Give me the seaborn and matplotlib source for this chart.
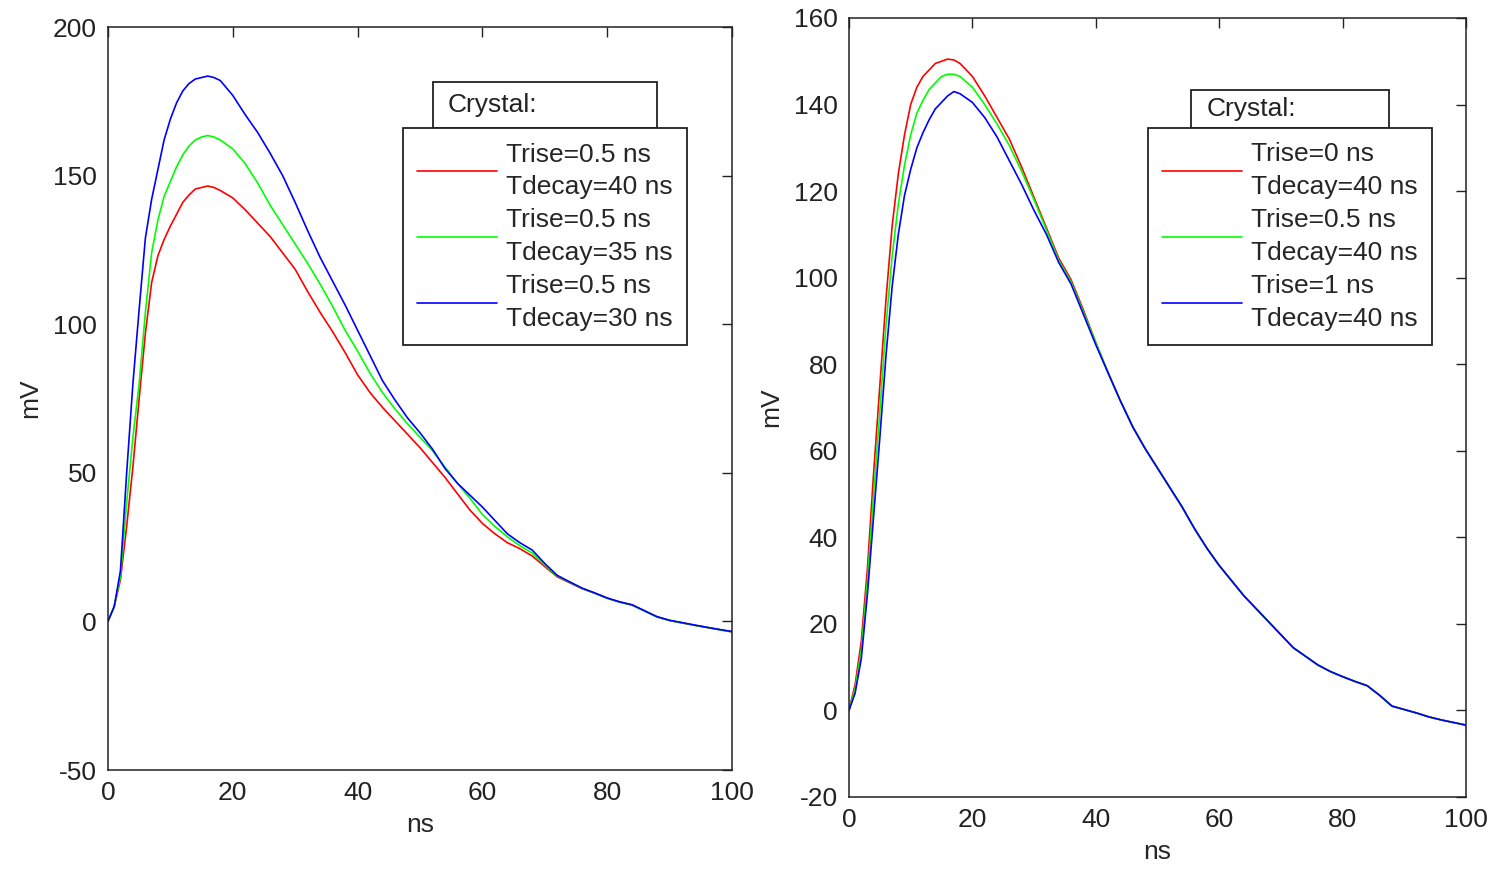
import numpy as np
import pandas as pd
import matplotlib
matplotlib.use("Agg")
import matplotlib.pyplot as plt
from matplotlib.patches import Rectangle
import seaborn as sns

# ---------------- data ----------------
t_ns = [0, 1, 2, 3, 4, 5, 6, 7, 8, 9, 10, 11, 12, 13, 14, 15, 16, 17, 18,
        20, 22, 24, 26, 28, 30, 32, 34, 36, 38,
        40, 42, 44, 46, 48, 50, 52, 54, 56, 58,
        60, 62, 64, 66, 68, 70, 72, 74, 76, 78,
        80, 82, 84, 86, 88, 90, 92, 94, 96, 98, 100]

# left panel: Trise = 0.5 ns, varying Tdecay
left_d40 = [0, 5, 14, 32, 52, 75, 97, 114, 123, 128.5, 133, 137, 141, 143.5, 145.5, 146, 146.5, 146, 145,
            142.5, 138.5, 134, 129.5, 124, 118.5, 111, 104, 97.5, 90.5,
            83, 77, 72, 67.5, 63, 58.5, 53.5, 48.5, 43, 37.5,
            33, 29.5, 26.5, 24.5, 22, 18.5, 15, 13, 11, 9.5,
            7.8, 6.5, 5.5, 3.5, 1.5, 0.3, -0.5, -1.3, -2.0, -2.8, -3.5]
left_d35 = [0, 5, 15, 40, 62, 80, 104, 124, 135, 143, 148, 153, 157, 160, 162, 163, 163.5, 163, 162,
            159, 154, 147.5, 140, 133.5, 127, 120.5, 113.5, 106, 98,
            91, 83.5, 77, 71.5, 66.5, 62, 57.5, 52, 46.5, 41.5,
            36, 32, 28.5, 25.5, 23, 19, 15.3, 13.2, 11.1, 9.5,
            7.8, 6.5, 5.5, 3.5, 1.5, 0.3, -0.5, -1.3, -2.0, -2.8, -3.5]
left_d30 = [0, 5, 17, 50, 80, 105, 129, 142, 152, 162, 169, 174.5, 178.5, 181, 182.5, 183, 183.5, 183, 182,
            177, 170.5, 164.5, 157.5, 150, 141, 131.5, 122.5, 114.5, 106.5,
            98, 89.5, 81, 74.5, 68.5, 63.5, 58, 51.5, 46.5, 42.5,
            38.5, 34, 29.5, 26.5, 24, 19.5, 15.5, 13.3, 11.2, 9.6,
            7.9, 6.6, 5.6, 3.6, 1.6, 0.4, -0.4, -1.2, -2.0, -2.7, -3.4]

# right panel: Tdecay = 40 ns, varying Trise
right_r0 = [0, 6, 16, 33, 55, 75, 95, 112, 124, 133, 140, 144, 146.5, 148, 149.5, 150, 150.5, 150.3, 149.5,
            146.5, 142, 137, 132, 125.5, 118.5, 111.5, 104.5, 99.5, 92.5,
            85, 78, 71.5, 65.5, 60.5, 56, 51.5, 47, 42, 37.5,
            33.5, 30, 26.5, 23.5, 20.5, 17.5, 14.5, 12.5, 10.5, 9,
            7.8, 6.7, 5.7, 3.5, 1.0, 0.2, -0.6, -1.5, -2.2, -2.8, -3.4]
right_r05 = [0, 5, 14, 30, 50, 69, 89, 105, 117, 126, 133, 138, 141, 143.5, 145, 146.5, 147, 147, 146.5,
             144, 140, 135.5, 130.5, 124.5, 118, 111, 104, 99, 92,
             85, 78, 71.5, 65.5, 60.5, 56, 51.5, 47, 42, 37.5,
             33.5, 30, 26.5, 23.5, 20.5, 17.5, 14.5, 12.5, 10.5, 9,
             7.8, 6.7, 5.7, 3.5, 1.0, 0.2, -0.6, -1.5, -2.2, -2.8, -3.4]
right_r1 = [0, 4, 12, 27, 45, 63, 82, 98, 110, 119, 125, 130, 133.5, 136.5, 139, 140.5, 142, 143, 142.5,
            140.5, 137, 132.5, 127, 121.5, 115.5, 110, 103.5, 98.5, 91.5,
            84.5, 78, 71.5, 65.5, 60.5, 56, 51.5, 47, 42, 37.5,
            33.5, 30, 26.5, 23.5, 20.5, 17.5, 14.5, 12.5, 10.5, 9,
            7.8, 6.7, 5.7, 3.5, 1.0, 0.2, -0.6, -1.5, -2.2, -2.8, -3.4]

left_labels = ["Trise=0.5 ns\nTdecay=40 ns", "Trise=0.5 ns\nTdecay=35 ns", "Trise=0.5 ns\nTdecay=30 ns"]
right_labels = ["Trise=0 ns\nTdecay=40 ns", "Trise=0.5 ns\nTdecay=40 ns", "Trise=1 ns\nTdecay=40 ns"]
colors = ["#ff0000", "#00ff00", "#0000ff"]

left_yticks = [-50, 0, 50, 100, 150, 200]
right_yticks = [-20, 0, 20, 40, 60, 80, 100, 120, 140, 160]
xticks = [0, 20, 40, 60, 80, 100]

# ---------------- style ----------------
sns.set_theme(style="white")
plt.rcParams["font.family"] = ["Liberation Sans Narrow", "Liberation Sans", "DejaVu Sans"]
plt.rcParams["axes.edgecolor"] = "#222222"
plt.rcParams["axes.linewidth"] = 1.1
plt.rcParams["axes.unicode_minus"] = False

FS = 19

fig = plt.figure(figsize=(14.91, 8.69), dpi=100)
axL = fig.add_axes([0.0724, 0.1139, 0.4185, 0.8550])
axR = fig.add_axes([0.5694, 0.0829, 0.4138, 0.8964])


def long_df(series, labels):
    frames = []
    for vals, lab in zip(series, labels):
        frames.append(pd.DataFrame({"ns": t_ns, "mV": vals, "label": lab}))
    return pd.concat(frames, ignore_index=True)


def draw(ax, series, labels, yticks, ylim, leg_anchor, title_rect, title_xy):
    df = long_df(series, labels)
    sns.lineplot(data=df, x="ns", y="mV", hue="label", hue_order=labels,
                 palette=colors, linewidth=1.2, ax=ax, sort=False, estimator=None)
    ax.set_xlim(0, 100)
    ax.set_ylim(*ylim)
    ax.set_xticks(xticks)
    ax.set_yticks(yticks)
    ax.tick_params(direction="in", length=7, width=1.0, top=True, right=True,
                   labelsize=FS, pad=8, colors="#222222")
    ax.set_xlabel("ns", fontsize=FS, labelpad=6)
    ax.set_ylabel("mV", fontsize=FS, labelpad=8)
    for s in ax.spines.values():
        s.set_visible(True)
    leg = ax.legend(loc="upper left", bbox_to_anchor=leg_anchor, borderaxespad=0,
                    fontsize=FS, frameon=True, fancybox=False, framealpha=1,
                    edgecolor="#222222", handlelength=3.0, handletextpad=0.35,
                    labelspacing=0.35, borderpad=0.55)
    for txt in leg.get_texts():
        txt.set_linespacing(1.45)
    leg.get_frame().set_linewidth(1.3)
    leg.set_zorder(5)
    ax.add_patch(Rectangle(title_rect[:2], title_rect[2], title_rect[3],
                           transform=ax.transAxes, facecolor="white",
                           edgecolor="#222222", linewidth=1.3, clip_on=False, zorder=4))
    ax.text(title_xy[0], title_xy[1], "Crystal:", transform=ax.transAxes,
            fontsize=FS, va="center", ha="left", color="#222222", zorder=6)


draw(axL, [left_d40, left_d35, left_d30], left_labels, left_yticks, (-50, 200),
     (0.4728, 0.864), (0.5208, 0.864, 0.359, 0.062), (0.545, 0.895))
draw(axR, [right_r0, right_r05, right_r1], right_labels, right_yticks, (-20, 160),
     (0.4846, 0.8588), (0.554, 0.8588, 0.321, 0.0488), (0.580, 0.883))

fig.savefig("out.png", dpi=100)
